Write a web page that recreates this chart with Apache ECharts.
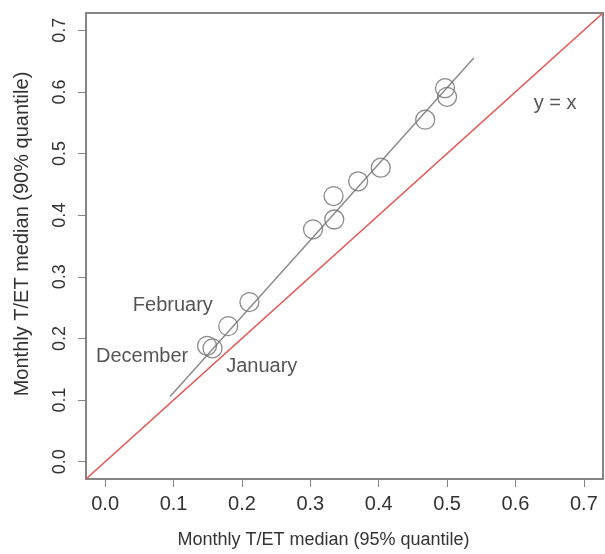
<!DOCTYPE html>
<html>
<head>
<meta charset="utf-8">
<script src="https://cdn.jsdelivr.net/npm/echarts@6/dist/echarts.min.js"></script>
<style>html,body{margin:0;padding:0;background:#fff}#c{width:605px;height:554px}</style>
</head>
<body>
<div id="c"></div>
<script>
// Data
var xValues = [0.149, 0.157, 0.180, 0.211, 0.304, 0.335, 0.334, 0.370, 0.403, 0.468, 0.497, 0.500];
var yValues = [0.188, 0.184, 0.220, 0.259, 0.377, 0.393, 0.431, 0.455, 0.477, 0.555, 0.606, 0.592];
var fitX = [0.095, 0.539];
var fitY = [0.106, 0.655];
var axisMin = -0.028, axisMax = 0.728;
var tickValues = [0.0, 0.1, 0.2, 0.3, 0.4, 0.5, 0.6, 0.7];
var annotationNames = ['February', 'December', 'January', 'y = x'];
var annotationX = [0.099, 0.054, 0.229, 0.658];
var annotationY = [0.254, 0.171, 0.155, 0.582];

var font = '"Liberation Sans", Arial, Helvetica, sans-serif';
var textColor = '#333333';
var axisGray = '#858585';

function zip(a, b) { return a.map(function (v, i) { return [v, b[i]]; }); }

var chart = echarts.init(document.getElementById('c'), null, { renderer: 'canvas' });
chart.setOption({
  animation: false,
  backgroundColor: '#fff',
  grid: { left: 86, right: 2, top: 13, bottom: 74, show: true, borderColor: axisGray, borderWidth: 2, backgroundColor: 'transparent' },
  xAxis: {
    type: 'value', min: axisMin, max: axisMax,
    name: 'Monthly T/ET median (95% quantile)', nameLocation: 'middle', nameGap: 52,
    nameTextStyle: { fontFamily: font, fontSize: 18, color: textColor, padding: [0, 42, 0, 0] },
    axisLine: { show: false, onZero: false },
    axisTick: { show: true, inside: false, length: 8, lineStyle: { color: axisGray, width: 1 }, customValues: tickValues },
    axisLabel: { customValues: tickValues, margin: 15, fontFamily: font, fontSize: 20, color: textColor,
      formatter: function (v) { return v.toFixed(1); } },
    splitLine: { show: false }
  },
  yAxis: {
    type: 'value', min: axisMin, max: axisMax,
    name: 'Monthly T/ET median (90% quantile)', nameLocation: 'middle', nameGap: 54, nameRotate: 90,
    nameTextStyle: { fontFamily: font, fontSize: 20, color: textColor, padding: [0, 0, 0, 24] },
    axisLine: { show: false, onZero: false },
    axisTick: { show: true, inside: false, length: 8, lineStyle: { color: axisGray, width: 1 }, customValues: tickValues },
    axisLabel: { customValues: tickValues, rotate: 90, margin: 17, fontFamily: font, fontSize: 18, color: textColor,
      formatter: function (v) { return v.toFixed(1); } },
    splitLine: { show: false }
  },
  series: [
    {
      type: 'line', data: zip([axisMin, axisMax], [axisMin, axisMax]), showSymbol: false, symbol: 'none',
      lineStyle: { color: '#e25555', width: 1.6 }, z: 3, silent: true
    },
    {
      type: 'line', data: zip(fitX, fitY), symbol: 'none',
      lineStyle: { color: '#8c8c8c', width: 1.5 }, z: 2, silent: true
    },
    {
      type: 'scatter', data: zip(xValues, yValues), symbol: 'circle', symbolSize: 19,
      itemStyle: { color: 'transparent', borderColor: '#6e6e6e', borderWidth: 1.3 }, z: 4
    },
    {
      type: 'scatter', symbolSize: 0,
      data: annotationNames.map(function (n, i) { return { name: n, value: [annotationX[i], annotationY[i]] }; }),
      label: { show: true, position: 'inside', formatter: '{b}', fontFamily: font, fontSize: 20, color: '#2a2a2a' },
      z: 5
    }
  ]
});
</script>
</body>
</html>
